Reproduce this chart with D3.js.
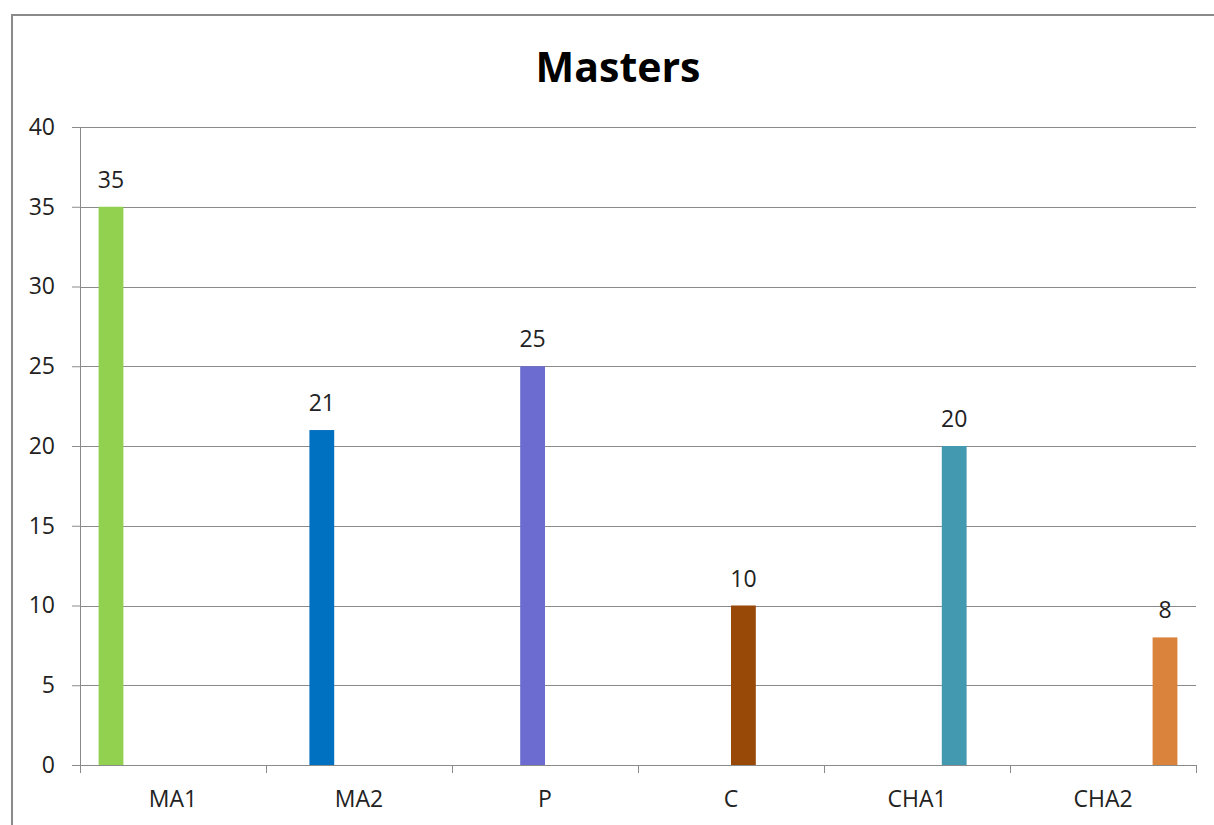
<!DOCTYPE html>
<html>
<head>
<meta charset="utf-8">
<script src="https://cdn.jsdelivr.net/npm/d3@7"></script>
<style>
  body { margin: 0; background: #fff; }
  svg text { font-family: "Open Sans", "Liberation Sans", sans-serif; fill: #222; }
</style>
</head>
<body>
<div class="chart"></div>
<script>
// values
var categories = ["MA1", "MA2", "P", "C", "CHA1", "CHA2"];
var values = [35, 21, 25, 10, 20, 8];
var colors = ["#92d050", "#0070c0", "#6c6cd0", "#984807", "#4299b0", "#da833d"];
var yTicks = [0, 5, 10, 15, 20, 25, 30, 35, 40];
var title = "Masters";

(function() {
    var width = 1214, height = 825;
    var plot = {left: 80, right: 1196, top: 127, bottom: 765};
    var labelSize = "23px";

    var svg = d3.select(".chart").append("svg")
        .attr("width", width)
        .attr("height", height);

    // chart area border (runs off the right and bottom of the window)
    svg.append("rect")
        .attr("x", 12).attr("y", 15)
        .attr("width", 1240).attr("height", 840)
        .attr("fill", "#fff")
        .attr("stroke", "#8a8a8a")
        .attr("stroke-width", 2);

    svg.append("text")
        .attr("x", 618).attr("y", 82)
        .attr("text-anchor", "middle")
        .style("font-size", "41px")
        .style("font-weight", "bold")
        .style("fill", "#000")
        .text(title);

    var x0 = d3.scaleBand().domain(categories).range([plot.left, plot.right]).padding(0);
    // each series sits in its own slot of the cluster (Excel gap width 150%)
    var x1 = d3.scaleBand().domain(categories).range([0, x0.bandwidth()])
        .paddingInner(0).paddingOuter(0.75);
    var y = d3.scaleLinear().domain([0, 40]).range([plot.bottom, plot.top]);

    // y axis
    var yAxis = svg.append("g")
        .attr("transform", "translate(" + plot.left + ",0)")
        .call(d3.axisLeft(y).tickValues(yTicks).tickSize(8).tickPadding(17))
    yAxis.select(".domain").attr("stroke", "#8a8a8a");
    yAxis.selectAll(".tick line").attr("stroke", "#8a8a8a");
    yAxis.selectAll(".tick text").style("font-size", labelSize).style("fill", "#222")
        .attr("font-family", null);

    // gridlines
    svg.append("g").selectAll("line")
        .data(yTicks)
        .enter()
        .append("line")
            .attr("x1", plot.left).attr("x2", plot.right)
            .attr("y1", function(d) { return Math.round(y(d)) + 0.5; })
            .attr("y2", function(d) { return Math.round(y(d)) + 0.5; })
            .attr("stroke", "#8a8a8a")
            .attr("stroke-width", 1);

    // x axis
    var xAxis = svg.append("g")
        .attr("transform", "translate(0," + plot.bottom + ")")
        .call(d3.axisBottom(x0).tickSize(0).tickPadding(26));
    xAxis.select(".domain").remove();
    xAxis.selectAll(".tick text").style("font-size", labelSize).style("fill", "#222")
        .attr("font-family", null);

    svg.append("g").selectAll("line")
        .data(categories.concat(["end"]))
        .enter()
        .append("line")
            .attr("x1", function(d, i) { return Math.round(plot.left + i * x0.step()) + 0.5; })
            .attr("x2", function(d, i) { return Math.round(plot.left + i * x0.step()) + 0.5; })
            .attr("y1", plot.bottom)
            .attr("y2", plot.bottom + 8)
            .attr("stroke", "#8a8a8a");

    // bars
    var bars = svg.append("g").selectAll("g")
        .data(categories)
        .enter()
        .append("g")
            .classed("bar", true);

    bars.append("rect")
        .attr("x", function(d) { return x0(d) + x1(d); })
        .attr("width", x1.bandwidth())
        .attr("y", function(d, i) { return y(values[i]); })
        .attr("height", function(d, i) { return y(0) - y(values[i]); })
        .style("fill", function(d, i) { return colors[i]; });

    bars.append("text")
        .attr("x", function(d) { return x0(d) + x1(d) + x1.bandwidth() / 2; })
        .attr("y", function(d, i) { return y(values[i]) - 19; })
        .attr("text-anchor", "middle")
        .style("font-size", labelSize)
        .text(function(d, i) { return values[i]; });
})();
</script>
</body>
</html>
